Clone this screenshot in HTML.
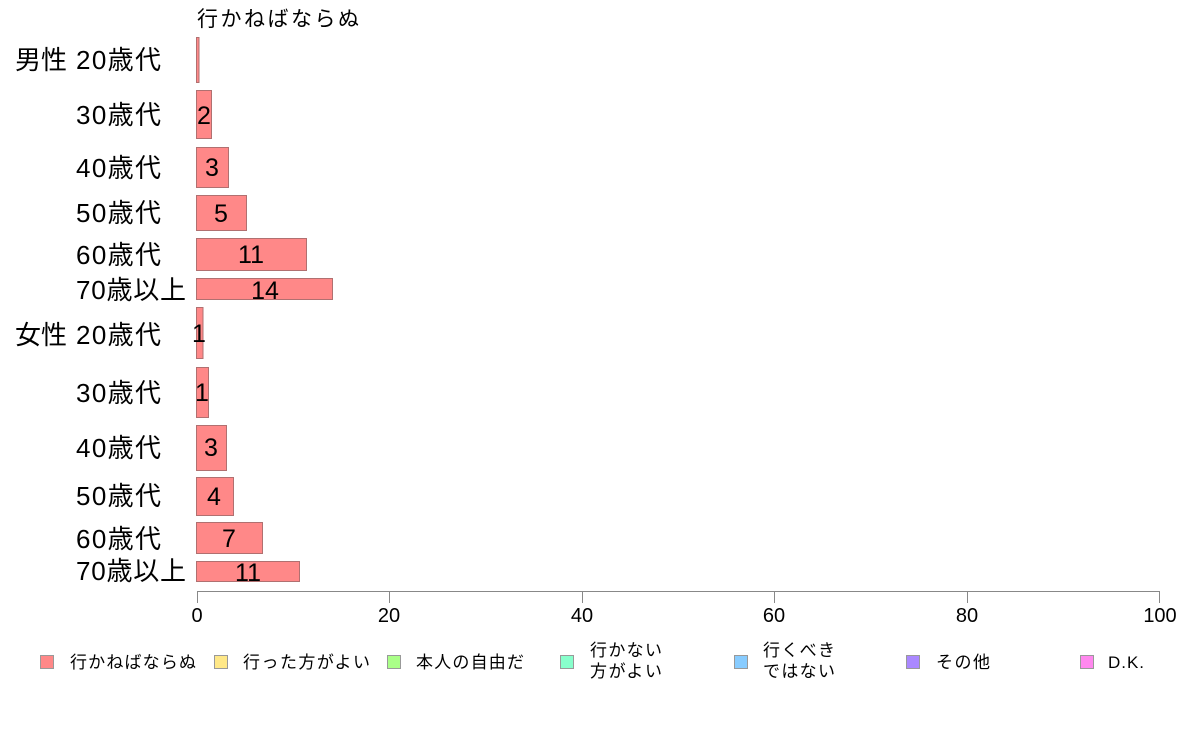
<!DOCTYPE html>
<html><head><meta charset="utf-8"><style>
body{margin:0;background:#fff;}
svg text{font-family:"Liberation Sans","Noto Sans CJK JP",sans-serif;}
</style></head><body>
<svg width="1188" height="736" xmlns="http://www.w3.org/2000/svg">
<rect width="1188" height="736" fill="#fff"/>
<text x="197" y="26" font-size="21" textLength="162">行かねばならぬ</text>
<g fill="#FF8888" stroke="#b07070" stroke-width="1">
<rect x="196.5" y="37.5" width="2.5" height="45"/>
<rect x="196.5" y="90.5" width="15" height="48"/>
<rect x="196.5" y="147.5" width="32" height="40"/>
<rect x="196.5" y="195.5" width="50" height="35"/>
<rect x="196.5" y="238.5" width="110" height="32"/>
<rect x="196.5" y="278.5" width="136" height="21"/>
<rect x="196.5" y="307.5" width="6.5" height="51"/>
<rect x="196.5" y="367.5" width="12" height="50"/>
<rect x="196.5" y="425.5" width="30" height="45"/>
<rect x="196.5" y="477.5" width="37" height="38"/>
<rect x="196.5" y="522.5" width="66" height="31"/>
<rect x="196.5" y="561.5" width="103" height="20"/>
</g>
<g font-size="25" text-anchor="middle">
<text x="204" y="124">2</text>
<text x="212" y="176">3</text>
<text x="221" y="222">5</text>
<text x="251" y="263">11</text>
<text x="265" y="299">14</text>
<text x="199" y="342">1</text>
<text x="202" y="401">1</text>
<text x="211" y="456">3</text>
<text x="214" y="505">4</text>
<text x="229" y="547">7</text>
<text x="248" y="581">11</text>
</g>
<g font-size="26">
<text x="15" y="69" textLength="52">男性</text>
<text x="15" y="344" textLength="52">女性</text>
<text x="76" y="69" textLength="85">20歳代</text>
<text x="76" y="124" textLength="85">30歳代</text>
<text x="76" y="177" textLength="85">40歳代</text>
<text x="76" y="222" textLength="85">50歳代</text>
<text x="76" y="264" textLength="85">60歳代</text>
<text x="76" y="299" textLength="110">70歳以上</text>
<text x="76" y="344" textLength="85">20歳代</text>
<text x="76" y="402" textLength="85">30歳代</text>
<text x="76" y="457" textLength="85">40歳代</text>
<text x="76" y="505" textLength="85">50歳代</text>
<text x="76" y="548" textLength="85">60歳代</text>
<text x="76" y="580" textLength="110">70歳以上</text>
</g>
<g stroke="#888" stroke-width="1">
<line x1="197" y1="591.5" x2="1160" y2="591.5"/>
<line x1="197.5" y1="591" x2="197.5" y2="603"/>
<line x1="389.5" y1="591" x2="389.5" y2="603"/>
<line x1="582.5" y1="591" x2="582.5" y2="603"/>
<line x1="774.5" y1="591" x2="774.5" y2="603"/>
<line x1="967.5" y1="591" x2="967.5" y2="603"/>
<line x1="1159.5" y1="591" x2="1159.5" y2="603"/>
</g>
<g font-size="20" text-anchor="middle">
<text x="197" y="622">0</text>
<text x="389" y="622">20</text>
<text x="582" y="622">40</text>
<text x="774" y="622">60</text>
<text x="967" y="622">80</text>
<text x="1160" y="622">100</text>
</g>
<g stroke="#999" stroke-width="1">
<rect x="40.5" y="655.5" width="13" height="13" fill="#FF8888"/>
<rect x="214.5" y="655.5" width="13" height="13" fill="#FFE888"/>
<rect x="387.5" y="655.5" width="13" height="13" fill="#AAFF88"/>
<rect x="560.5" y="655.5" width="13" height="13" fill="#88FFCC"/>
<rect x="734.5" y="655.5" width="13" height="13" fill="#88CCFF"/>
<rect x="906.5" y="655.5" width="13" height="13" fill="#AA88FF"/>
<rect x="1080.5" y="655.5" width="13" height="13" fill="#FF88EE"/>
</g>
<g font-size="17">
<text x="70" y="668" textLength="126">行かねばならぬ</text>
<text x="243" y="668" textLength="127">行った方がよい</text>
<text x="416" y="668" textLength="108">本人の自由だ</text>
<text x="590" y="656" textLength="72">行かない</text>
<text x="590" y="677" textLength="72">方がよい</text>
<text x="763" y="656" textLength="72">行くべき</text>
<text x="763" y="677" textLength="72">ではない</text>
<text x="936" y="668" textLength="54">その他</text>
<text x="1108" y="668" textLength="36">D.K.</text>
</g>
</svg>
</body></html>
